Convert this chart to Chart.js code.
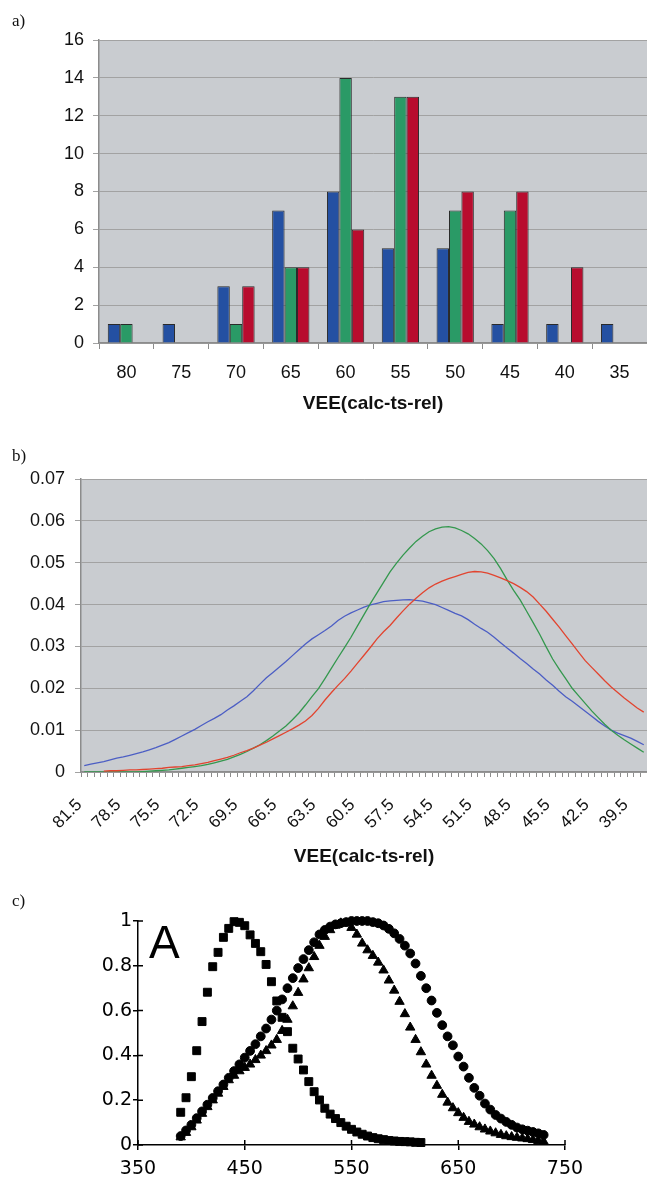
<!DOCTYPE html>
<html>
<head>
<meta charset="utf-8">
<script src="https://cdn.jsdelivr.net/npm/chart.js@4.4.1/dist/chart.umd.min.js"></script>
<style>
  body { margin: 0; background: #fff; width: 647px; height: 1178px; position: relative; overflow: hidden; }
  canvas { position: absolute; left: 0; }
  .lbl { position: absolute; font-family: "Liberation Serif", "DejaVu Serif", serif; font-size: 17px; line-height: 1; color: #111; }
  .bigA { position: absolute; font-family: "Liberation Sans", Arial, sans-serif; font-size: 46px; line-height: 1; color: #000; }
</style>
</head>
<body>
<canvas id="chartA" width="647" height="420" style="top:0px"></canvas>
<canvas id="chartB" width="647" height="440" style="top:430px"></canvas>
<canvas id="chartC" width="647" height="303" style="top:875px"></canvas>
<div class="lbl" style="left:12px;top:12px">a)</div>
<div class="lbl" style="left:12px;top:447px">b)</div>
<div class="lbl" style="left:12px;top:892px">c)</div>
<div class="bigA" style="left:149px;top:919px">A</div>
<script>
// --- a) histogramme
const catsA = ['80', '75', '70', '65', '60', '55', '50', '45', '40', '35'];
const blueA = [1, 1, 3, 7, 8, 5, 5, 1, 1, 1];
const greenA = [1, 0, 1, 4, 14, 13, 7, 7, 0, 0];
const redA = [0, 0, 3, 4, 6, 13, 8, 8, 4, 0];
const ticksA = [0, 2, 4, 6, 8, 10, 12, 14, 16];

// --- b) distributions
const catsB = [
  81.5, 81, 80.5, 80, 79.5, 79, 78.5, 78, 77.5, 77,
  76.5, 76, 75.5, 75, 74.5, 74, 73.5, 73, 72.5, 72,
  71.5, 71, 70.5, 70, 69.5, 69, 68.5, 68, 67.5, 67,
  66.5, 66, 65.5, 65, 64.5, 64, 63.5, 63, 62.5, 62,
  61.5, 61, 60.5, 60, 59.5, 59, 58.5, 58, 57.5, 57,
  56.5, 56, 55.5, 55, 54.5, 54, 53.5, 53, 52.5, 52,
  51.5, 51, 50.5, 50, 49.5, 49, 48.5, 48, 47.5, 47,
  46.5, 46, 45.5, 45, 44.5, 44, 43.5, 43, 42.5, 42,
  41.5, 41, 40.5, 40, 39.5, 39, 38.5
];
const blueB = [
  0.0015, 0.0019, 0.0022, 0.0025, 0.0029, 0.0033, 0.0036, 0.0040, 0.0044, 0.0048,
  0.0053, 0.0058, 0.0064, 0.0070, 0.0078, 0.0086, 0.0094, 0.0102, 0.0111, 0.0120,
  0.0128, 0.0137, 0.0148, 0.0158, 0.0169, 0.0180, 0.0194, 0.0210, 0.0225, 0.0238,
  0.0251, 0.0264, 0.0278, 0.0292, 0.0306, 0.0318, 0.0328, 0.0338, 0.0349, 0.0362,
  0.0372, 0.0380, 0.0387, 0.0394, 0.0399, 0.0403, 0.0407, 0.0409, 0.0410, 0.0411,
  0.0412, 0.0410, 0.0408, 0.0404, 0.0400, 0.0393, 0.0386, 0.0379, 0.0373, 0.0364,
  0.0353, 0.0343, 0.0334, 0.0322, 0.0309, 0.0296, 0.0284, 0.0271, 0.0259, 0.0246,
  0.0234, 0.0220, 0.0207, 0.0193, 0.0180, 0.0169, 0.0157, 0.0145, 0.0133, 0.0121,
  0.0110, 0.0100, 0.0093, 0.0087, 0.0081, 0.0073, 0.0065
];
const greenB = [
  0, 0, 0, 0, 0, 0, 0, 0, 0, 0.0001,
  0.0002, 0.0003, 0.0004, 0.0005, 0.0007, 0.0009, 0.0011, 0.0013, 0.0015, 0.0018,
  0.0022, 0.0026, 0.0030, 0.0036, 0.0042, 0.0049, 0.0057, 0.0065, 0.0075, 0.0086,
  0.0098, 0.0110, 0.0125, 0.0141, 0.0160, 0.0180, 0.0199, 0.0223, 0.0248, 0.0273,
  0.0297, 0.0322, 0.0349, 0.0376, 0.0403, 0.0428, 0.0453, 0.0478, 0.0499, 0.0518,
  0.0535, 0.0551, 0.0563, 0.0574, 0.0581, 0.0585, 0.0586, 0.0583, 0.0577, 0.0569,
  0.0558, 0.0545, 0.0529, 0.0510, 0.0486, 0.0459, 0.0434, 0.0411, 0.0384, 0.0357,
  0.0329, 0.0299, 0.0270, 0.0246, 0.0223, 0.0200, 0.0182, 0.0164, 0.0146, 0.0130,
  0.0114, 0.0100, 0.0088, 0.0077, 0.0067, 0.0057, 0.0047
];
const redB = [
  null, null, null, 0.0002, 0.0003, 0.0003, 0.0004, 0.0005, 0.0005, 0.0006,
  0.0007, 0.0008, 0.0009, 0.0011, 0.0012, 0.0013, 0.0015, 0.0017, 0.0020, 0.0023,
  0.0027, 0.0031, 0.0035, 0.0040, 0.0046, 0.0051, 0.0057, 0.0064, 0.0071, 0.0079,
  0.0087, 0.0095, 0.0103, 0.0112, 0.0122, 0.0135, 0.0152, 0.0172, 0.0190, 0.0207,
  0.0223, 0.0241, 0.0260, 0.0279, 0.0298, 0.0318, 0.0335, 0.0350, 0.0368, 0.0385,
  0.0401, 0.0415, 0.0428, 0.0440, 0.0449, 0.0456, 0.0462, 0.0467, 0.0472, 0.0477,
  0.0479, 0.0478, 0.0475, 0.0470, 0.0464, 0.0457, 0.0450, 0.0441, 0.0431, 0.0418,
  0.0401, 0.0384, 0.0365, 0.0346, 0.0326, 0.0306, 0.0286, 0.0266, 0.0250, 0.0234,
  0.0218, 0.0203, 0.0190, 0.0177, 0.0165, 0.0153, 0.0143
];
const labelEveryB = 6; // une étiquette tous les 3 (pas de 0.5)

// --- c) spectres
const lambdaC = [
  390, 395, 400, 405, 410, 415, 420, 425, 430, 435,
  440, 445, 450, 455, 460, 465, 470, 475, 480, 485,
  490, 495, 500, 505, 510, 515, 520, 525, 530, 535,
  540, 545, 550, 555, 560, 565, 570, 575, 580, 585,
  590, 595, 600, 605, 610, 615, 620, 625, 630, 635,
  640, 645, 650, 655, 660, 665, 670, 675, 680, 685,
  690, 695, 700, 705, 710, 715, 720, 725, 730
];
const squaresC = [
  0.146, 0.211, 0.305, 0.421, 0.551, 0.682, 0.796, 0.860, 0.927, 0.967,
  0.997, 0.994, 0.979, 0.938, 0.900, 0.863, 0.806, 0.729, 0.643, 0.570,
  0.506, 0.432, 0.384, 0.335, 0.283, 0.238, 0.201, 0.164, 0.138, 0.118,
  0.100, 0.084, 0.070, 0.058, 0.048, 0.040, 0.033, 0.028, 0.024, 0.020,
  0.018, 0.016, 0.015, 0.014, 0.012, 0.011, null, null, null, null,
  null, null, null, null, null, null, null, null, null, null,
  null, null, null, null, null, null, null, null, null
];
const trianglesC = [
  0.035, 0.055, 0.080, 0.110, 0.140, 0.170, 0.200, 0.230, 0.260, 0.290,
  0.310, 0.330, 0.345, 0.360, 0.380, 0.400, 0.420, 0.445, 0.470, 0.510,
  0.560, 0.620, 0.680, 0.740, 0.790, 0.840, 0.890, 0.930, 0.960, 0.980,
  0.990, 0.990, 0.970, 0.940, 0.900, 0.870, 0.845, 0.815, 0.780, 0.735,
  0.690, 0.640, 0.585, 0.525, 0.470, 0.415, 0.360, 0.310, 0.265, 0.225,
  0.190, 0.165, 0.143, 0.122, 0.104, 0.092, 0.080, 0.070, 0.061, 0.053,
  0.046, 0.040, 0.036, 0.033, 0.030, 0.027, 0.023, 0.019, 0.015
];
const circlesC = [
  0.040, 0.065, 0.090, 0.120, 0.150, 0.180, 0.210, 0.240, 0.270, 0.300,
  0.330, 0.360, 0.390, 0.420, 0.450, 0.485, 0.520, 0.560, 0.600, 0.650,
  0.700, 0.745, 0.790, 0.830, 0.870, 0.905, 0.940, 0.960, 0.975, 0.985,
  0.990, 0.995, 1.000, 1.000, 1.000, 1.000, 0.995, 0.990, 0.980, 0.965,
  0.945, 0.920, 0.890, 0.855, 0.810, 0.755, 0.700, 0.645, 0.590, 0.535,
  0.485, 0.445, 0.395, 0.350, 0.300, 0.255, 0.220, 0.185, 0.158, 0.134,
  0.118, 0.103, 0.090, 0.078, 0.070, 0.064, 0.058, 0.052, 0.045
];

Chart.defaults.font.family = '"Liberation Sans", Arial, sans-serif';
Chart.defaults.color = '#111';

// Fond gris de la zone de tracé
const fondZone = {
  id: 'fondZone',
  beforeDraw(chart, args, opts) {
    if (!opts.color) return;
    const { ctx, chartArea: a } = chart;
    ctx.save();
    ctx.fillStyle = opts.color;
    ctx.fillRect(a.left, a.top, a.right - a.left, a.bottom - a.top);
    ctx.restore();
  }
};

// Graduations qui traversent l'axe (panneau c)
const tiretsInterieurs = {
  id: 'tiretsInterieurs',
  afterDraw(chart) {
    const { ctx, chartArea: a, scales } = chart;
    ctx.save();
    ctx.strokeStyle = '#000';
    ctx.lineWidth = 1.5;
    ctx.beginPath();
    scales.x.ticks.forEach((t, i) => {
      const px = scales.x.getPixelForTick(i);
      ctx.moveTo(px, a.bottom);
      ctx.lineTo(px, a.bottom - 5);
    });
    scales.y.ticks.forEach((t, i) => {
      const py = scales.y.getPixelForTick(i);
      ctx.moveTo(a.left, py);
      ctx.lineTo(a.left + 5, py);
    });
    ctx.stroke();
    ctx.restore();
  }
};

const titreAxe = 'VEE(calc-ts-rel)';
const policeTicks = { size: 18 };
const gris = '#c9ccd0';
const grille = '#a2a2a2';

function graphiqueA() {
  new Chart(document.getElementById('chartA'), {
    type: 'bar',
    data: {
      labels: catsA,
      datasets: [
        { data: blueA, backgroundColor: '#2450a2' },
        { data: greenA, backgroundColor: '#2a9a66' },
        { data: redA, backgroundColor: '#b80c2e' }
      ].map(d => Object.assign(d, { borderColor: '#2a2a2a', borderWidth: 1, categoryPercentage: 0.68, barPercentage: 1 }))
    },
    options: {
      responsive: false,
      animation: false,
      devicePixelRatio: 1,
      layout: { padding: { top: 40, left: 0, right: 0, bottom: 0 } },
      plugins: { legend: { display: false }, tooltip: { enabled: false }, fondZone: { color: gris } },
      scales: {
        x: {
          grid: { drawOnChartArea: false, tickLength: 6, color: '#8c8c8c', offset: true },
          border: { color: '#8c8c8c', width: 1.5 },
          ticks: { font: policeTicks, padding: 13, maxRotation: 0 },
          title: { display: true, text: titreAxe, font: { size: 19, weight: 'bold' }, padding: { top: 0, bottom: 5 } },
          afterFit: s => { s.height = 77; s.paddingLeft = 0; s.paddingRight = 0; }
        },
        y: {
          min: 0, max: 16,
          afterBuildTicks: s => { s.ticks = ticksA.map(v => ({ value: v })); },
          ticks: { font: policeTicks, padding: 9 },
          grid: { color: grille, tickLength: 6 },
          border: { color: '#8c8c8c', width: 1.5 },
          afterFit: s => { s.width = 99; }
        }
      }
    },
    plugins: [fondZone]
  });
}

function graphiqueB() {
  new Chart(document.getElementById('chartB'), {
    type: 'line',
    data: {
      labels: catsB,
      datasets: [
        { data: blueB, borderColor: '#4c5ec4', order: 3 },
        { data: greenB, borderColor: '#34984e', order: 2 },
        { data: redB, borderColor: '#e2442f', order: 1 }
      ].map(d => Object.assign(d, { borderWidth: 1.3, pointRadius: 0, fill: false, tension: 0 }))
    },
    options: {
      responsive: false,
      animation: false,
      devicePixelRatio: 1,
      layout: { padding: { top: 49, left: 0, right: 0, bottom: 0 } },
      plugins: { legend: { display: false }, tooltip: { enabled: false }, fondZone: { color: gris } },
      scales: {
        x: {
          offset: true,
          grid: { drawOnChartArea: false, tickLength: 5, color: '#8c8c8c', offset: true },
          border: { color: '#8c8c8c', width: 1.5 },
          ticks: {
            font: { size: 17 }, padding: 18, autoSkip: false, minRotation: 45, maxRotation: 45, labelOffset: -5,
            callback: (v, i) => (i % labelEveryB === 0 ? String(catsB[i]) : '')
          },
          title: { display: true, text: titreAxe, font: { size: 19, weight: 'bold' }, padding: { top: 0, bottom: 2 } },
          afterFit: s => { s.height = 98; s.paddingLeft = 0; s.paddingRight = 0; }
        },
        y: {
          min: 0, max: 0.07,
          ticks: { stepSize: 0.01, font: policeTicks, padding: 10 },
          grid: { color: grille, tickLength: 6 },
          border: { color: '#8c8c8c', width: 1.5 },
          afterFit: s => { s.width = 81; }
        }
      }
    },
    plugins: [fondZone]
  });
}

function graphiqueC() {
  const points = serie => lambdaC.map((x, i) => ({ x: x, y: serie[i] })).filter(p => p.y !== null);
  const axeNoir = { color: '#000', width: 1.5 };
  const tiretsNoirs = { drawOnChartArea: false, tickLength: 5, color: '#000', lineWidth: 1.5 };
  const policeC = { family: '"DejaVu Sans", sans-serif', size: 19 };
  new Chart(document.getElementById('chartC'), {
    type: 'scatter',
    data: {
      datasets: [
        { data: points(squaresC), pointStyle: 'rect', pointRadius: 5.6 },
        { data: points(trianglesC), pointStyle: 'triangle', pointRadius: 5.4 },
        { data: points(circlesC), pointStyle: 'circle', pointRadius: 4.4 }
      ].map(d => Object.assign(d, { backgroundColor: '#000', borderColor: '#000', borderWidth: 1, clip: false }))
    },
    options: {
      responsive: false,
      animation: false,
      devicePixelRatio: 1,
      layout: { padding: { top: 46, left: 0, right: 82, bottom: 0 } },
      plugins: { legend: { display: false }, tooltip: { enabled: false } },
      scales: {
        x: {
          type: 'linear', min: 350, max: 750,
          ticks: { stepSize: 100, font: policeC, color: '#000', padding: 8 },
          grid: tiretsNoirs,
          border: axeNoir,
          afterFit: s => { s.height = 33; s.paddingLeft = 0; s.paddingRight = 0; }
        },
        y: {
          min: 0, max: 1,
          ticks: { stepSize: 0.2, font: policeC, color: '#000', padding: 1, callback: v => String(Number(v.toFixed(1))) },
          grid: tiretsNoirs,
          border: axeNoir,
          afterFit: s => { s.width = 138; }
        }
      }
    },
    plugins: [tiretsInterieurs]
  });
}

window.onload = function() {
  graphiqueA();
  graphiqueB();
  graphiqueC();
};
</script>
</body>
</html>
